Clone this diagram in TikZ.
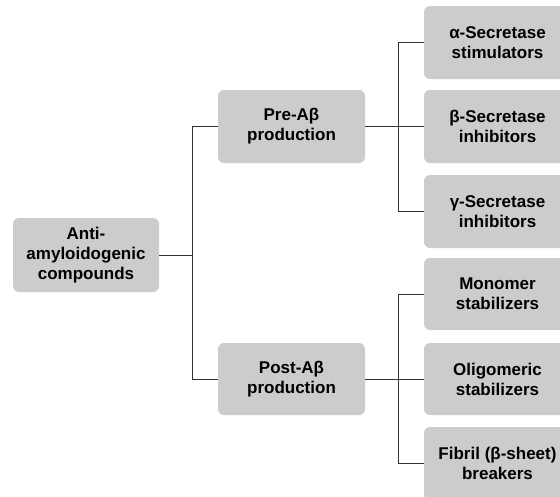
\documentclass[tikz,border=0pt]{standalone}
\usepackage{fontspec}
\setmainfont{Liberation Sans}
\definecolor{boxgray}{HTML}{CCCCCC}
\definecolor{linegray}{HTML}{333333}
\begin{document}
\begin{tikzpicture}[x=1pt,y=-1pt,
  box/.style={fill=boxgray, rounded corners=6pt, inner sep=0pt, align=center,
    minimum width=147pt, minimum height=73pt,
    font=\bfseries\fontsize{17}{20}\selectfont},
  conn/.style={draw=linegray, line width=1pt}]
\clip (0,0) rectangle (560,496);
\useasboundingbox (0,0) rectangle (560,496);
\node[box, minimum width=146pt, minimum height=74pt] (root) at (86,255) {Anti-\\amyloidogenic\\compounds};
\node[box] (pre) at (291.5,126.5) {Pre-Aβ\\production};
\node[box, minimum height=72pt] (post) at (291.5,379) {Post-Aβ\\production};
\node[box] (r1) at (497.5,42.5) {α-Secretase\\stimulators};
\node[box] (r2) at (497.5,126.5) {β-Secretase\\inhibitors};
\node[box] (r3) at (497.5,211.5) {γ-Secretase\\inhibitors};
\node[box, minimum height=72pt] (r4) at (497.5,294) {Monomer\\stabilizers};
\node[box, minimum height=72pt] (r5) at (497.5,379) {Oligomeric\\stabilizers};
\node[box] (r6) at (497.5,463.5) {Fibril (β-sheet)\\breakers};
\coordinate (j1) at (192,255);
\coordinate (j2) at (398.5,126.5);
\coordinate (j3) at (398.5,379);
\draw[conn] (root.east) -- (j1);
\draw[conn] (pre.west -| j1) -- (post.west -| j1);
\draw[conn] (pre.west -| j1) -- (pre.west);
\draw[conn] (post.west -| j1) -- (post.west);
\draw[conn] (pre.east) -- (r2.west);
\draw[conn] (r1.west) -| (j2) |- (r3.west);
\draw[conn] (post.east) -- (r5.west);
\draw[conn] (r4.west) -| (j3) |- (r6.west);
\end{tikzpicture}
\end{document}
